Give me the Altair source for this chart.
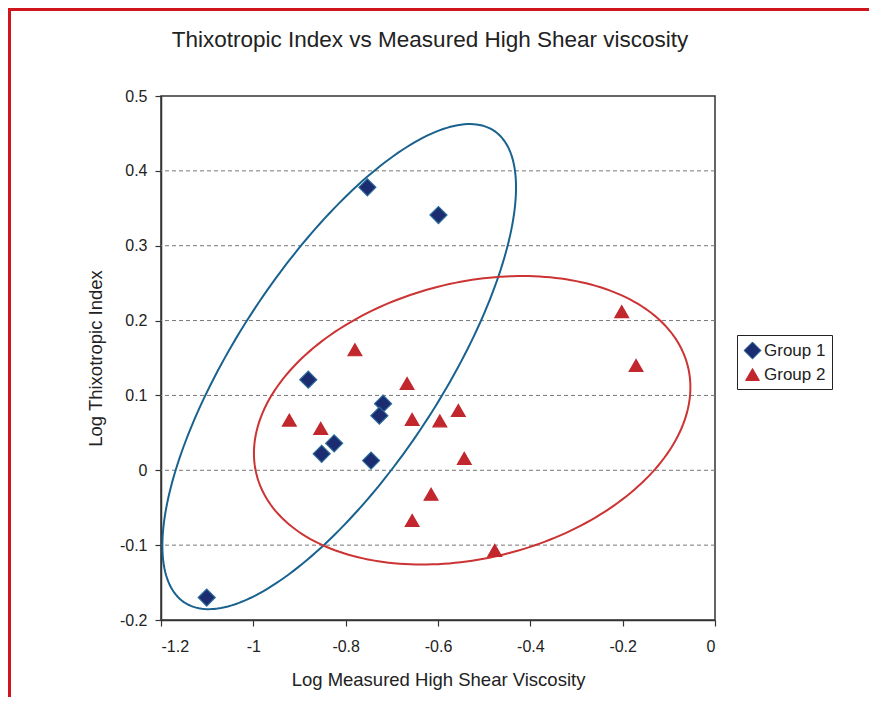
import altair as alt
import numpy as np
import pandas as pd

# ---- data ----
groups = ["Group 1", "Group 2"]
g1_x = [-0.753, -0.599, -0.881, -0.719, -0.727, -0.825, -0.852, -0.745, -1.101]
g1_y = [0.378, 0.341, 0.121, 0.089, 0.073, 0.036, 0.022, 0.013, -0.170]
g2_x = [-0.780, -0.667, -0.922, -0.854, -0.656, -0.596, -0.556, -0.543, -0.615, -0.656, -0.477, -0.202, -0.171]
g2_y = [0.161, 0.116, 0.067, 0.056, 0.068, 0.066, 0.080, 0.016, -0.032, -0.067, -0.107, 0.212, 0.140]

x_ticks = [-1.2, -1.0, -0.8, -0.6, -0.4, -0.2, 0.0]
y_ticks = [-0.2, -0.1, 0.0, 0.1, 0.2, 0.3, 0.4, 0.5]
grid_values = [-0.1, 0.0, 0.1, 0.2, 0.3, 0.4]

# ellipse outlines: centre, half-width, half-height, phase
blue_ellipse = {"cx": -0.814, "cy": 0.1385, "a": 0.383, "b": 0.324, "phi": 0.831}
red_ellipse = {"cx": -0.526, "cy": 0.0668, "a": 0.4727, "b": 0.1927, "phi": 0.231}

title_text = "Thixotropic Index vs Measured High Shear viscosity"
x_title = "Log Measured High Shear Viscosity"
y_title = "Log Thixotropic Index"

navy = "#1b2c70"
navy_edge = "#2a6a9a"
red = "#c1272d"
blue_line = "#19628f"
red_line = "#cc3333"
FONT = "Liberation Sans"

pts = pd.DataFrame({
    "x": g1_x + g2_x,
    "y": g1_y + g2_y,
    "group": [groups[0]] * len(g1_x) + [groups[1]] * len(g2_x),
})


def ellipse_df(p):
    t = np.linspace(0, 2 * np.pi, 241)
    return pd.DataFrame({
        "i": np.arange(len(t)),
        "x": p["cx"] + p["a"] * np.cos(t),
        "y": p["cy"] + p["b"] * np.sin(t + p["phi"]),
    })


xscale = alt.Scale(domain=[-1.2, 0], nice=False, zero=False)
yscale = alt.Scale(domain=[-0.2, 0.5], nice=False, zero=False)

xaxis = alt.Axis(values=x_ticks, title=x_title, grid=False,
                 labelExpr="toString(datum.value)", tickSize=6,
                 labelPadding=12, titlePadding=16)
yaxis = alt.Axis(values=y_ticks, title=y_title, grid=False,
                 labelExpr="toString(datum.value)", tickSize=6,
                 labelPadding=8, titlePadding=14)

grid = alt.Chart(pd.DataFrame({"y": grid_values})).mark_rule(
    color="#777777", strokeDash=[4, 3], strokeWidth=1
).encode(y=alt.Y("y:Q", scale=yscale, axis=yaxis))


def ellipse_layer(p, color):
    return alt.Chart(ellipse_df(p)).mark_line(
        color=color, strokeWidth=2, clip=False
    ).encode(
        x=alt.X("x:Q", scale=xscale, axis=xaxis),
        y=alt.Y("y:Q", scale=yscale, axis=yaxis),
        order="i:Q",
    )


legend = alt.Legend(title=None, orient="none", legendX=576, legendY=239,
                    strokeColor="#222222", fillColor="white", padding=6,
                    labelFontSize=17, labelFont=FONT, labelColor="#222222",
                    symbolSize=170, rowPadding=3, symbolStrokeWidth=1,
                    labelOffset=2)

points = alt.Chart(pts).mark_point(filled=True, opacity=1, strokeWidth=1.2).encode(
    x=alt.X("x:Q", scale=xscale, axis=xaxis),
    y=alt.Y("y:Q", scale=yscale, axis=yaxis),
    shape=alt.Shape("group:N", scale=alt.Scale(domain=groups, range=["diamond", "triangle-up"]),
                    legend=legend),
    color=alt.Color("group:N", scale=alt.Scale(domain=groups, range=[navy, red]), legend=legend),
    stroke=alt.Stroke("group:N", scale=alt.Scale(domain=groups, range=[navy_edge, red]), legend=None),
    size=alt.Size("group:N", scale=alt.Scale(domain=groups, range=[290, 190]), legend=None),
)

frame_top = alt.Chart(pd.DataFrame({"k": [0]})).mark_rule(color="#d0151c", strokeWidth=3).encode(
    x=alt.value(-153), x2=alt.value(710), y=alt.value(-86.5))
frame_left = alt.Chart(pd.DataFrame({"k": [0]})).mark_rule(color="#d0151c", strokeWidth=3).encode(
    x=alt.value(-151.5), y=alt.value(-88), y2=alt.value(605))

chart = alt.layer(
    grid, ellipse_layer(blue_ellipse, blue_line), ellipse_layer(red_ellipse, red_line), points,
    frame_top, frame_left,
).properties(
    width=554, height=524,
    background="white",
    title=alt.TitleParams(title_text, fontSize=22.5, font=FONT, color="#222222",
                          fontWeight="normal", anchor="middle", offset=0, dx=-8, dy=45),
    autosize=alt.AutoSizeParams(type="none"),
    padding={"left": 153, "top": 88, "right": 154, "bottom": 77},
).configure_view(
    stroke="#333333", strokeWidth=1.5
).configure_axis(
    labelFont=FONT, titleFont=FONT, labelFontSize=16, titleFontSize=18.5,
    labelColor="#222222", titleColor="#222222", titleFontWeight="normal",
    domainColor="#333333", tickColor="#333333", domainWidth=1.5, tickWidth=1.2,
)

chart.save("out.html", embed_options={"renderer": "svg", "actions": False})
